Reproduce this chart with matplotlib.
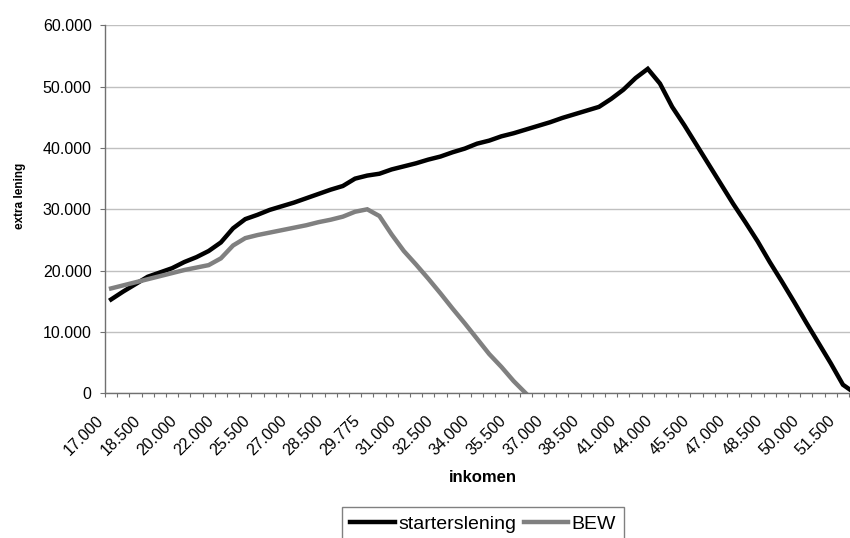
import numpy as np
import matplotlib
matplotlib.use('Agg')
import matplotlib.pyplot as plt
import matplotlib.transforms as mtransforms

plt.rcParams['font.family'] = ['Liberation Sans', 'DejaVu Sans']

# inkomen categories (only every third one is labelled on the axis)
incomes = [17000, 17500, 18000, 18500, 19000, 19500, 20000, 21000, 21500, 22000,
           23000, 24500, 25500, 26000, 26500, 27000, 27500, 28000, 28500, 29000,
           29500, 29775, 30000, 30500, 31000, 31500, 32000, 32500, 33000, 33500,
           34000, 34500, 35000, 35500, 36000, 36500, 37000, 37500, 38000, 38500,
           39000, 40000, 41000, 42000, 43000, 44000, 44500, 45000, 45500, 46000,
           46500, 47000, 47500, 48000, 48500, 49000, 49500, 50000, 50500, 51000,
           51500, 52000]

starterslening = [15300, 16600, 17800, 19000, 19700, 20400, 21400, 22200, 23200, 24600,
                  26900, 28400, 29100, 29900, 30500, 31100, 31800, 32500, 33200, 33800,
                  35000, 35500, 35800, 36500, 37000, 37500, 38100, 38600, 39300, 39900,
                  40700, 41200, 41900, 42400, 43000, 43600, 44200, 44900, 45500, 46100,
                  46700, 48000, 49500, 51400, 52900, 50500, 46700, 43700, 40500, 37300,
                  34100, 30900, 27900, 24800, 21400, 18200, 14900, 11500, 8200, 4900,
                  1400, 0]

bew = [17100, 17600, 18100, 18600, 19100, 19600, 20100, 20500, 20900, 22000,
       24100, 25300, 25800, 26200, 26600, 27000, 27400, 27900, 28300, 28800,
       29600, 30000, 28900, 25900, 23200, 21000, 18700, 16300, 13800, 11400,
       8900, 6400, 4300, 2000, 0]

x = np.arange(len(incomes))

fig = plt.figure(figsize=(8.5, 5.38), dpi=100)
ax = fig.add_axes([105 / 850, (538 - 393.3) / 538, 745 / 850, 368 / 538])

ax.plot(x, starterslening, color='black', lw=3.2, label='starterslening', solid_joinstyle='miter')
ax.plot(x[:len(bew)], bew, color='#808080', lw=3.2, label='BEW', solid_joinstyle='miter')

ax.set_xlim(-0.5, 60.58)
ax.set_ylim(0, 60000)

# y axis
yticks = np.arange(0, 60001, 10000)
ax.set_yticks(yticks)
ax.set_yticklabels(['{:,}'.format(v).replace(',', '.') for v in yticks], fontsize=11.5)
ax.grid(axis='y', color='#c0c0c0', lw=1)
ax.set_axisbelow(True)

# x axis: labels on every third category, small ticks between categories
ax.set_xticks(x[::3][:21])
ax.set_xticklabels(['{:,}'.format(v).replace(',', '.') for v in incomes[::3][:21]],
                   rotation=45, ha='right', va='top', rotation_mode='anchor', fontsize=11.5)
ax.set_xticks(np.arange(-0.5, 61, 1), minor=True)
ax.tick_params(axis='x', which='major', length=0, pad=14)
ax.tick_params(axis='x', which='minor', length=3, width=0.8, color='#707070', direction='out')
ax.tick_params(axis='y', length=3.6, width=0.8, color='#707070', pad=6)
shift = mtransforms.ScaledTranslation(-15 / 100, 0, fig.dpi_scale_trans)
for lab in ax.get_xticklabels():
    lab.set_transform(lab.get_transform() + shift)

for side in ['top', 'right']:
    ax.spines[side].set_visible(False)
for side in ['left', 'bottom']:
    ax.spines[side].set_color('#707070')
    ax.spines[side].set_linewidth(1)

ax.set_xlabel('inkomen', fontsize=12, fontweight='bold')
ax.xaxis.set_label_coords((483 - 105) / 745, (393.3 - 478) / 368)
ax.xaxis.label.set_va('center')
ax.set_ylabel('extra lening', fontsize=8.5, fontweight='bold')
ax.yaxis.set_label_coords((20 - 105) / 745, (393.3 - 196) / 368)
ax.yaxis.label.set_va('center')

leg = fig.legend(loc='upper center', bbox_to_anchor=(483 / 850, (538 - 507) / 538), ncol=2,
                 fontsize=14, frameon=True, fancybox=False, framealpha=1, borderaxespad=0,
                 handlelength=2.3, handletextpad=0.15, columnspacing=0.4, borderpad=0.42)
leg.get_frame().set_edgecolor('#808080')
leg.get_frame().set_linewidth(1)

plt.savefig('out.png', dpi=100)
